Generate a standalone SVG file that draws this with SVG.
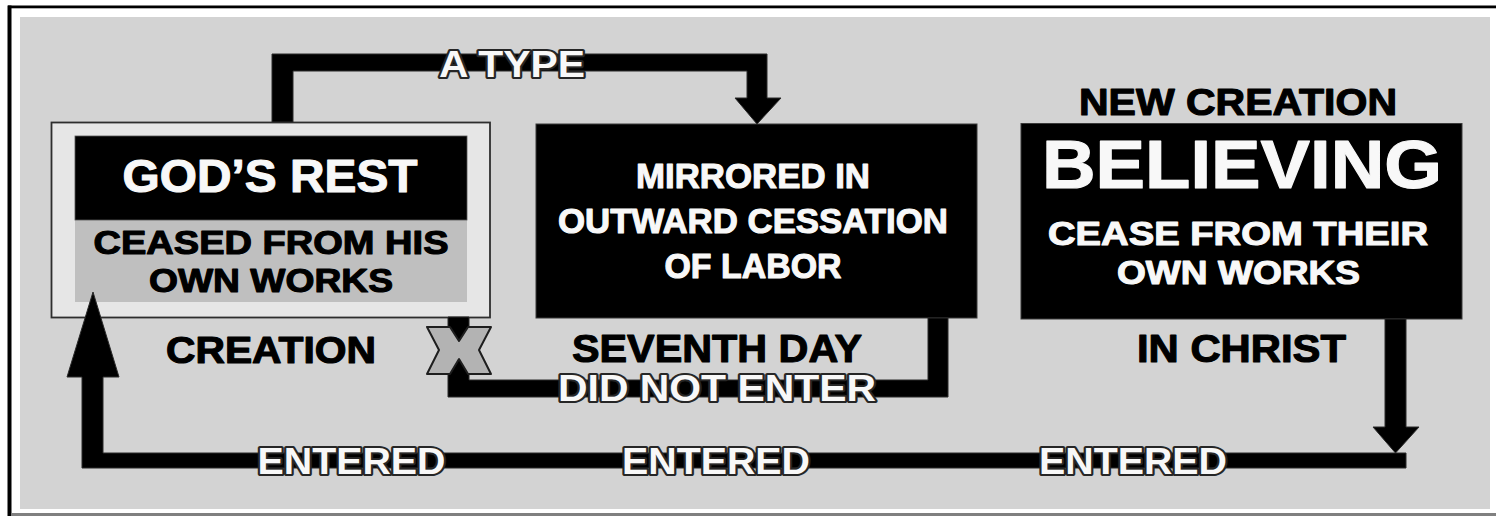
<svg xmlns="http://www.w3.org/2000/svg" width="1496" height="516" viewBox="0 0 1496 516">
<style>
.t{font-family:"Liberation Sans",Arial,Helvetica,sans-serif;font-weight:bold;text-anchor:middle}
.w{fill:#f8f8f8;stroke:#f8f8f8;stroke-width:1.1;stroke-linejoin:round}
.k{fill:#000;stroke:#000;stroke-width:1.1;stroke-linejoin:round}
.o{fill:#f8f8f8;stroke:#262626;stroke-width:4.2;paint-order:stroke;stroke-linejoin:round}
.blk{fill:#000;stroke:#3a3a3a;stroke-width:1}
.line{fill:#000;stroke:#2a2a2a;stroke-width:1;stroke-linejoin:miter}
</style>
<rect x="0" y="0" width="1496" height="516" fill="#fff"/>
<rect x="20" y="17" width="1470" height="492" fill="#d3d3d3"/>
<rect x="8" y="5.5" width="1488" height="2.8" fill="#000"/>
<rect x="7.5" y="5.5" width="4" height="511" fill="#000"/>
<rect x="12" y="513" width="1484" height="3" fill="#808080"/>

<g id="node-gods-rest">
  <rect x="51.5" y="122.5" width="438.5" height="195" fill="#e6e6e6" stroke="#2e2e2e" stroke-width="1.8"/>
  <rect x="75" y="220" width="392" height="82" fill="#bfbfbf"/>
  <rect x="75" y="136" width="392" height="84" fill="#000" stroke="#555" stroke-width="0.8"/>
  <text class="t w" x="270" y="192" font-size="47" textLength="295" lengthAdjust="spacingAndGlyphs">GOD’S REST</text>
  <text class="t k" x="271" y="253.5" font-size="32.5" textLength="355" lengthAdjust="spacingAndGlyphs">CEASED FROM HIS</text>
  <text class="t k" x="271" y="291.5" font-size="32.5" textLength="244" lengthAdjust="spacingAndGlyphs">OWN WORKS</text>
  <text class="t k" x="271" y="362.5" font-size="37" textLength="210" lengthAdjust="spacingAndGlyphs">CREATION</text>
</g>

<g id="node-mirrored">
  <rect x="536" y="124" width="441" height="194" class="blk"/>
  <text class="t w" x="753" y="188" font-size="35" textLength="234" lengthAdjust="spacingAndGlyphs">MIRRORED IN</text>
  <text class="t w" x="753" y="233" font-size="35" textLength="390" lengthAdjust="spacingAndGlyphs">OUTWARD CESSATION</text>
  <text class="t w" x="753" y="277.5" font-size="35" textLength="177" lengthAdjust="spacingAndGlyphs">OF LABOR</text>
  <text class="t k" x="717" y="361.5" font-size="39" textLength="290" lengthAdjust="spacingAndGlyphs">SEVENTH DAY</text>
</g>

<g id="node-believing">
  <text class="t k" x="1238" y="115" font-size="36" textLength="318" lengthAdjust="spacingAndGlyphs">NEW CREATION</text>
  <rect x="1021" y="123.5" width="441" height="195.5" class="blk"/>
  <text class="t w" x="1242" y="188" font-size="68" textLength="400" lengthAdjust="spacingAndGlyphs">BELIEVING</text>
  <text class="t w" x="1238" y="245" font-size="32.5" textLength="380" lengthAdjust="spacingAndGlyphs">CEASE FROM THEIR</text>
  <text class="t w" x="1238.5" y="284" font-size="32.5" textLength="243" lengthAdjust="spacingAndGlyphs">OWN WORKS</text>
  <text class="t k" x="1241.5" y="362" font-size="38" textLength="209" lengthAdjust="spacingAndGlyphs">IN CHRIST</text>
</g>

<g id="connectors">
  <path id="c-a-type" class="line" d="M272,122 L272,54 L767,54 L767,98 L781,98 L757,124 L735,98 L747,98 L747,71 L293,71 L293,122 Z"/>
  <path id="c-did-not-enter" class="line" d="M928,318 L948,318 L948,397 L448,397 L448,317 L469,317 L469,380 L928,380 Z"/>
  <path id="c-down" class="line" d="M1385,319 L1406,319 L1406,427 L1419,427 L1395.5,453 L1373,427 L1385,427 Z"/>
  <path id="c-entered" class="line" d="M1406,453 L1406,468 L82,468 L82,377 L67,377 L93,292 L119,377 L103,377 L103,453 Z"/>
  <polygon id="x-mark" points="427,327 450,327 459,341 468,327 491,327 479,350 491,374 468,374 459,359 450,374 427,374 439,350" fill="#b3b3b3" stroke="#1e1e1e" stroke-width="2" stroke-linejoin="round"/>
  <text class="t o" x="512" y="76.5" font-size="37" textLength="146" lengthAdjust="spacingAndGlyphs">A TYPE</text>
  <text class="t o" x="717" y="401" font-size="36" textLength="318" lengthAdjust="spacingAndGlyphs">DID NOT ENTER</text>
  <text class="t o" x="351.5" y="473.5" font-size="36" textLength="188" lengthAdjust="spacingAndGlyphs">ENTERED</text>
  <text class="t o" x="716" y="473.5" font-size="36" textLength="188" lengthAdjust="spacingAndGlyphs">ENTERED</text>
  <text class="t o" x="1133" y="473.5" font-size="36" textLength="188" lengthAdjust="spacingAndGlyphs">ENTERED</text>
</g>
</svg>
